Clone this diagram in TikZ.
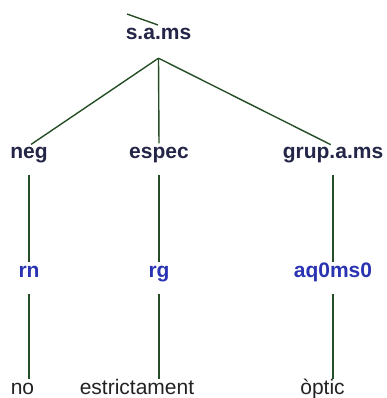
\documentclass[tikz,border=0pt]{standalone}
\usepackage{fontspec}
\setmainfont{Liberation Sans}
\usepackage{xcolor}
\definecolor{treegreen}{RGB}{38,78,38}
\definecolor{catnavy}{RGB}{36,38,72}
\definecolor{tagblue}{RGB}{42,52,178}
\definecolor{wordgray}{RGB}{34,34,34}

\begin{document}
\begin{tikzpicture}[x=1pt,y=-1pt,
        cat/.style={inner sep=0pt,text height=12pt,text depth=4pt,anchor=base,
            font=\fontsize{21}{21}\selectfont\bfseries,text=catnavy},
        tag/.style={cat,text=tagblue},
        word/.style={inner sep=0pt,text height=12pt,text depth=4pt,anchor=base,
            font=\fontsize{21}{21}\selectfont,text=wordgray},
        branch/.style={treegreen,line width=1.4pt,shorten <=12.5pt,shorten >=2.5pt},
        fan/.style={treegreen,line width=1.4pt,shorten >=2.5pt}]
        \useasboundingbox (0,0) rectangle (386,398);
        % categories
        \node[cat] (sams) at (158.5,40) {s.a.ms};
        \node[cat] (neg) at (29,158) {neg};
        \node[cat] (espec) at (159,158) {espec};
        \node[cat] (grup) at (333,158) {grup.a.ms};
        % tags
        \node[tag] (rn) at (29,277) {rn};
        \node[tag] (rg) at (159,277) {rg};
        \node[tag] (aq) at (333,277) {aq0ms0};
        % words
        \node[word] (no) at (22.5,394) {no};
        \node[word] (estr) at (137,394) {estrictament};
        \node[word] (optic) at (322.5,394) {òptic};
        % branches
        \coordinate (apex) at ([yshift=-14pt]sams.south);
        \draw[treegreen,line width=1.4pt] (127,14) -- (158,25);
        \draw[fan] (apex) -- (neg.north);
        \draw[fan] (apex) -- (espec.north);
        \draw[fan] (apex) -- (grup.north);
        \draw[branch] (neg) -- (rn);
        \draw[branch] (espec) -- (rg);
        \draw[branch] (grup) -- (aq);
        \draw[branch] (rn.south) -- (rn.south |- no.north);
        \draw[branch] (rg.south) -- (rg.south |- estr.north);
        \draw[branch] (aq.south) -- (aq.south |- optic.north);
    \end{tikzpicture}
\end{document}
